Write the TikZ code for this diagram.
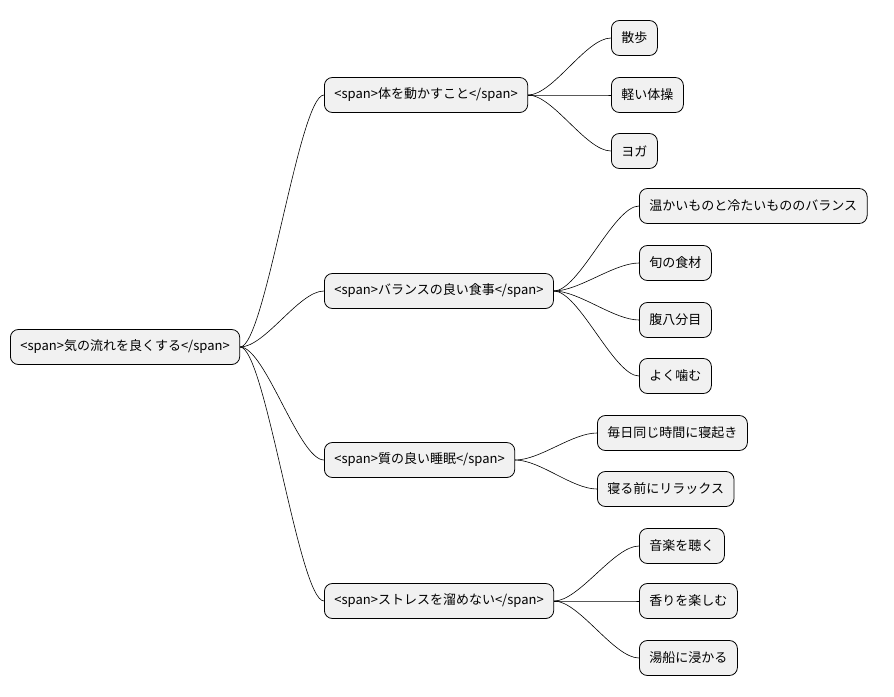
\documentclass[tikz,border=0pt]{standalone}
\usepackage{fontspec}
\setmainfont{Noto Sans CJK JP}
\begin{document}
\begin{tikzpicture}[x=1pt,y=-1pt,
  box/.style={draw=black,fill={rgb,255:red,241;green,241;blue,241},rounded corners=8pt,minimum height=35pt,inner xsep=10pt,anchor=west,font=\fontsize{13}{15}\selectfont,line width=0.8pt},
  conn/.style={line width=0.6pt}]
\useasboundingbox (0,0) rectangle (894,696);
\node[box] (r) at (10,347) {<span>気の流れを良くする</span>};
\node[box] (a) at (324,95) {<span>体を動かすこと</span>};
\node[box] (b) at (324,291) {<span>バランスの良い食事</span>};
\node[box] (c) at (324,460) {<span>質の良い睡眠</span>};
\node[box] (d) at (324,601) {<span>ストレスを溜めない</span>};
\node[box] (a1) at (611,38) {散歩};
\node[box] (a2) at (611,95) {軽い体操};
\node[box] (a3) at (611,151) {ヨガ};
\node[box] (b1) at (639,206) {温かいものと冷たいもののバランス};
\node[box] (b2) at (639,263) {旬の食材};
\node[box] (b3) at (639,320) {腹八分目};
\node[box] (b4) at (639,376) {よく噛む};
\node[box] (c1) at (597,433) {毎日同じ時間に寝起き};
\node[box] (c2) at (597,489) {寝る前にリラックス};
\node[box] (d1) at (639,546) {音楽を聴く};
\node[box] (d2) at (639,601) {香りを楽しむ};
\node[box] (d3) at (639,658) {湯船に浸かる};
\foreach \p/\c in {r/a,r/b,r/c,r/d,a/a1,a/a2,a/a3,b/b1,b/b2,b/b3,b/b4,c/c1,c/c2,d/d1,d/d2,d/d3}
  \draw[conn] (\p.east) .. controls +(25,0) and +(-25,0) .. (\c.west);
\end{tikzpicture}
\end{document}
